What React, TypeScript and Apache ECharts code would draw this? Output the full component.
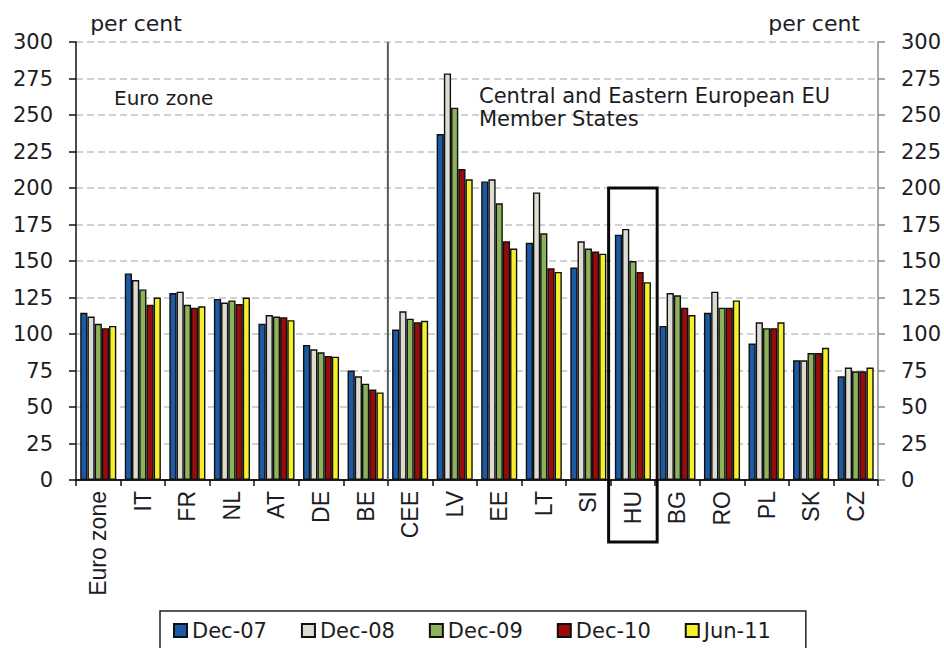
import React, { useEffect, useRef } from "react";
import * as echarts from "echarts";

// Country codes along the category axis
const categories = [
  "Euro zone", "IT", "FR", "NL", "AT", "DE", "BE",
  "CEE", "LV", "EE", "LT", "SI", "HU", "BG", "RO", "PL", "SK", "CZ",
];

// Loan-to-deposit ratios, per cent
const dec07 = [114.5, 141.5, 128, 124, 107, 92.5, 75, 103, 237, 204.5, 162.5, 145.5, 168, 105.5, 114.5, 93.5, 82, 71];
const dec08 = [112, 137, 129, 121.5, 113, 89.5, 71, 115.5, 278.5, 206, 197, 163.5, 172, 128, 129, 108, 82, 77];
const dec09 = [107, 130.5, 120, 123, 112, 87.5, 66, 110.5, 255, 189.5, 169, 158.5, 150, 126.5, 118, 104, 87, 74.5];
const dec10 = [104, 120, 118, 120.5, 111.5, 85, 62, 108, 213, 163.5, 145, 156.5, 142.5, 118, 118, 104, 87, 74.5];
const jun11 = [105.5, 125, 119, 125, 109.5, 84.5, 60, 109, 206, 158.5, 142.5, 155, 135.5, 113, 123, 108, 90.5, 77];

const seriesNames = ["Dec-07", "Dec-08", "Dec-09", "Dec-10", "Jun-11"];
const seriesData = [dec07, dec08, dec09, dec10, jun11];
const seriesColors = ["#1b5ba6", "#dcdcd3", "#8cb25a", "#9a0c0c", "#f6f02c"];

const yTicks = { min: 0, max: 300, interval: 25 };
const highlighted = "HU";
const boxTop = 200;

const TEXT = "#1c1c24";
const SANS = "DejaVu Sans";

export default function App() {
  const ref = useRef<HTMLDivElement>(null);

  useEffect(() => {
    if (!ref.current) return;
    const chart = echarts.init(ref.current, null, { renderer: "svg" });

    const yAxisBase = {
      type: "value" as const,
      min: yTicks.min,
      max: yTicks.max,
      interval: yTicks.interval,
      axisTick: { show: true, inside: false, length: 7 },
      axisLabel: { margin: 23, fontFamily: SANS, fontSize: 21, color: TEXT },
    };

    chart.setOption({
      animation: false,
      tooltip: { show: false },
      grid: { left: 76, right: 66, top: 42, bottom: 168, containLabel: false },
      legend: {
        data: seriesNames,
        left: 160,
        top: 611,
        icon: "rect",
        itemWidth: 13,
        itemHeight: 13,
        itemGap: 34,
        padding: [9, 35, 22, 13],
        borderColor: "#222",
        borderWidth: 1.5,
        textStyle: { fontFamily: SANS, fontSize: 21, color: TEXT },
      },
      xAxis: [
        {
          type: "category",
          data: categories,
          position: "bottom",
          axisLine: { show: true, lineStyle: { color: "#111", width: 1.5 } },
          axisTick: { show: true, inside: false, length: 6, alignWithLabel: false, lineStyle: { color: "#111", width: 1.5 } },
          axisLabel: {
            rotate: 90,
            margin: 11,
            interval: 0,
            fontFamily: "Liberation Sans",
            fontSize: 23,
            color: TEXT,
          },
        },
        {
          type: "category",
          data: categories,
          position: "top",
          axisLine: { show: true, lineStyle: { color: "#111", width: 1.5 } },
          axisTick: { show: false },
          axisLabel: { show: false },
        },
      ],
      yAxis: [
        {
          ...yAxisBase,
          position: "left",
          axisLine: { show: true, lineStyle: { color: "#111", width: 1.5 } },
          axisTick: { ...yAxisBase.axisTick, lineStyle: { color: "#111", width: 1.5 } },
          splitLine: { show: true, lineStyle: { color: "#c2c2c2", width: 1.5, type: [7, 4] } },
        },
        {
          ...yAxisBase,
          position: "right",
          axisLine: { show: true, lineStyle: { color: "#8a8a8a", width: 1.5 } },
          axisTick: { ...yAxisBase.axisTick, lineStyle: { color: "#8a8a8a", width: 1.5 } },
          splitLine: { show: false },
        },
      ],
      series: seriesNames.map((name, i) => ({
        name,
        type: "bar",
        xAxisIndex: 0,
        yAxisIndex: 0,
        data: seriesData[i],
        barGap: "0%",
        barCategoryGap: "19%",
        itemStyle: { color: seriesColors[i], borderColor: "#101010", borderWidth: 1.4 },
      })),
    });

    // Overlays positioned through the axes' own scales
    const px = (cat: string) => chart.convertToPixel({ xAxisIndex: 0 }, cat) as number;
    const py = (v: number) => chart.convertToPixel({ yAxisIndex: 0 }, v) as number;
    const band = px(categories[1]) - px(categories[0]);
    const splitX = (px("BE") + px("CEE")) / 2;
    const yTop = py(yTicks.max);
    const yZero = py(0);
    const hx = px(highlighted);

    chart.setOption({
      graphic: [
        {
          type: "line",
          shape: { x1: splitX, y1: yTop, x2: splitX, y2: yZero },
          style: { stroke: "#5a5a5a", lineWidth: 2 },
          z: 10,
        },
        {
          type: "rect",
          shape: { x: hx - band / 2 - 2, y: py(boxTop), width: band + 4, height: yZero + 62 - py(boxTop) },
          style: { fill: "none", stroke: "#0a0a0a", lineWidth: 3 },
          z: 20,
        },
        {
          type: "text",
          x: 136, y: 23,
          style: { text: "per cent", font: `22px "${SANS}"`, fill: TEXT, align: "center", verticalAlign: "middle" },
        },
        {
          type: "text",
          x: 860, y: 23,
          style: { text: "per cent", font: `22px "${SANS}"`, fill: TEXT, align: "right", verticalAlign: "middle" },
        },
        {
          type: "text",
          x: 114, y: 98,
          style: { text: "Euro zone", font: `20px "${SANS}"`, fill: TEXT, align: "left", verticalAlign: "middle" },
        },
        {
          type: "text",
          x: 479, y: 96,
          style: { text: "Central and Eastern European EU", font: `21px "${SANS}"`, fill: TEXT, align: "left", verticalAlign: "middle" },
        },
        {
          type: "text",
          x: 479, y: 119,
          style: { text: "Member States", font: `21px "${SANS}"`, fill: TEXT, align: "left", verticalAlign: "middle" },
        },
      ],
    });

    return () => chart.dispose();
  }, []);

  return <div ref={ref} style={{ width: 944, height: 648, position: "absolute", left: 0, top: 0, background: "#fff" }} />;
}
